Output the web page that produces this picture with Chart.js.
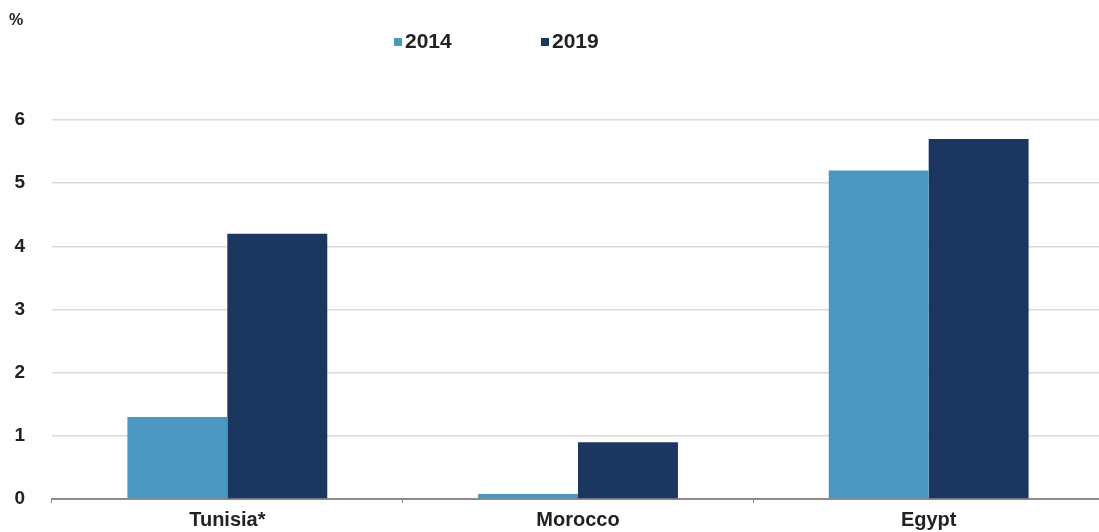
<!DOCTYPE html>
<html>
<head>
<meta charset="utf-8">
<script src="https://cdn.jsdelivr.net/npm/chart.js@4/dist/chart.umd.min.js"></script>
<style>
  html, body { margin: 0; padding: 0; background: #fff; overflow: hidden; }
  #chart { display: block; }
</style>
</head>
<body>
<canvas id="chart" width="1104" height="532"></canvas>
<script>
const countries = ['Tunisia*', 'Morocco', 'Egypt'];
const years = ['2014', '2019'];
const values2014 = [1.3, 0.08, 5.2];
const values2019 = [4.2, 0.9, 5.7];
const yTicks = [0, 1, 2, 3, 4, 5, 6];
const unitLabel = '%';

const colors = ['#4a98c1', '#1b365f'];
const FONT = "'Liberation Sans', Arial, sans-serif";

// legend + unit label drawn by hand so they can sit left of centre
const legendPlugin = {
  id: 'topLegend',
  afterDraw(chart) {
    const ctx = chart.ctx;
    ctx.save();
    ctx.fillStyle = '#222';
    ctx.font = 'bold 16px ' + FONT;
    ctx.textBaseline = 'middle';
    ctx.fillText(unitLabel, 9, 21);

    ctx.font = 'bold 21px ' + FONT;
    let x = 394;
    chart.data.datasets.forEach((ds) => {
      ctx.fillStyle = ds.backgroundColor;
      ctx.fillRect(x, 38, 8, 8);
      ctx.fillStyle = '#222';
      ctx.fillText(ds.label, x + 11, 42);
      x += 147;
    });
    ctx.restore();
  }
};

new Chart(document.getElementById('chart'), {
  type: 'bar',
  data: {
    labels: countries,
    datasets: [
      { label: years[0], data: values2014, backgroundColor: colors[0] },
      { label: years[1], data: values2019, backgroundColor: colors[1] }
    ]
  },
  options: {
    responsive: false,
    animation: false,
    devicePixelRatio: 1,
    layout: { padding: { top: 120, left: 0, right: 0, bottom: 0 } },
    datasets: {
      bar: { categoryPercentage: 0.57, barPercentage: 1.0 }
    },
    plugins: {
      legend: { display: false },
      tooltip: { enabled: false }
    },
    scales: {
      x: {
        grid: {
          display: true,
          drawOnChartArea: false,
          drawTicks: true,
          tickLength: 4,
          color: '#8f8a88'
        },
        border: { display: true, color: '#8f8a88', width: 2 },
        ticks: {
          color: '#222',
          padding: 5,
          font: { family: FONT, size: 20, weight: 'bold' }
        },
        afterFit(scale) { scale.height = 33; }
      },
      y: {
        min: 0,
        max: 6,
        afterBuildTicks(scale) {
          scale.ticks = yTicks.map(v => ({ value: v }));
        },
        grid: { color: '#ddd8d5', lineWidth: 1.5, drawTicks: false },
        border: { display: false },
        ticks: {
          color: '#222',
          padding: 27,
          font: { family: FONT, size: 19, weight: 'bold' }
        },
        afterFit(scale) {
          // the wide label gap shouldn't push the plot area up or down
          scale.width = 52;
          scale.paddingTop = 0;
          scale.paddingBottom = 0;
        }
      }
    }
  },
  plugins: [legendPlugin]
});
</script>
</body>
</html>
